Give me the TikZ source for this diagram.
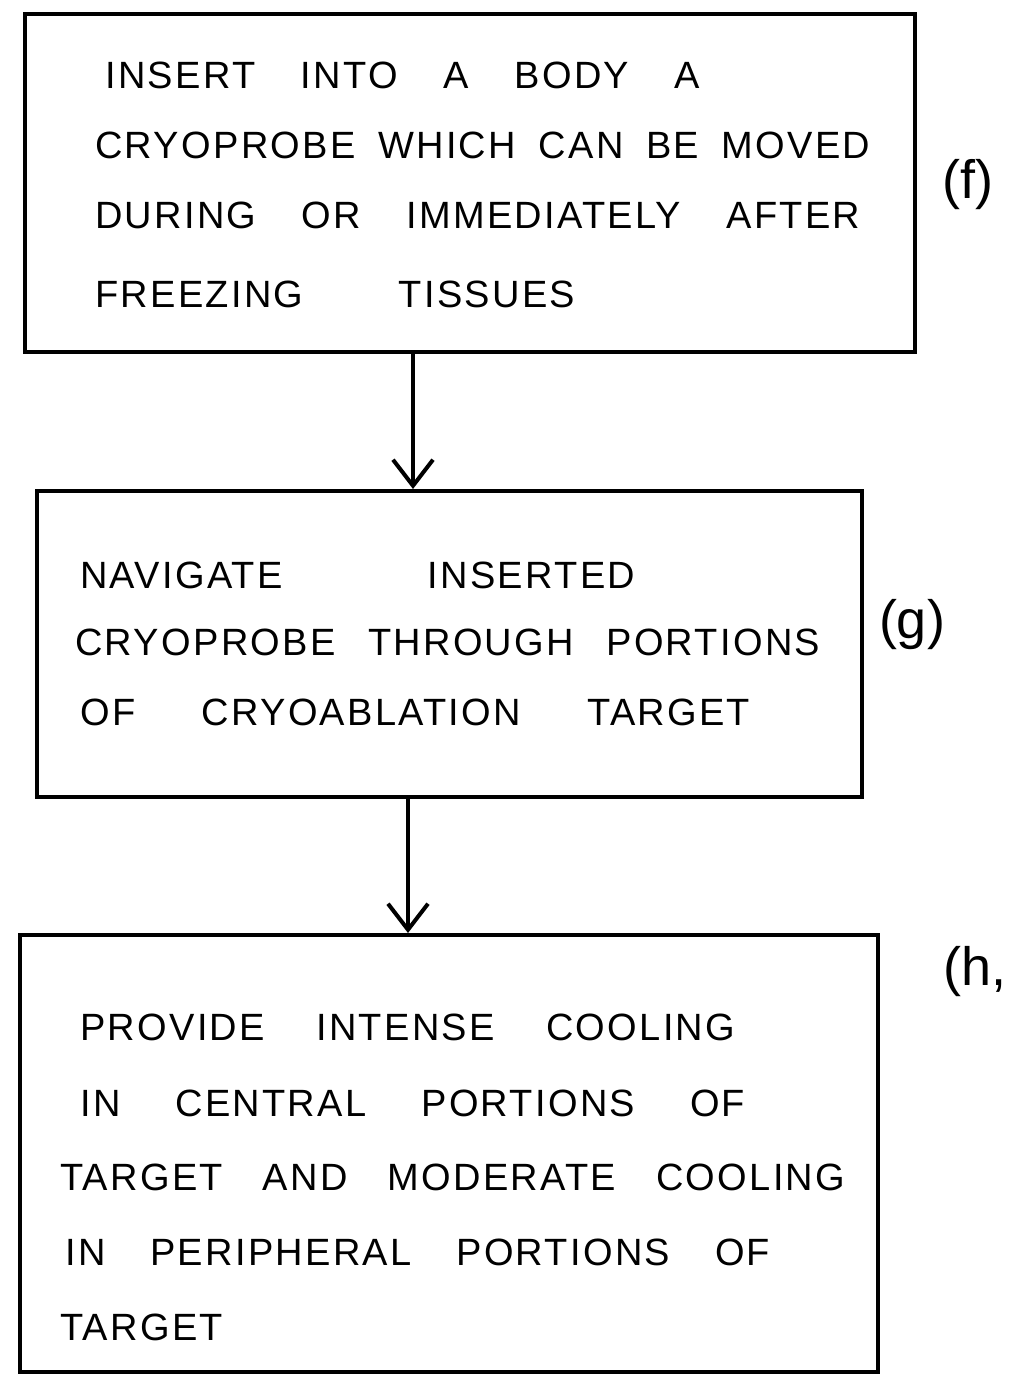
\documentclass[tikz,border=0pt]{standalone}
\usepackage{fontspec}
\setmainfont{Liberation Sans}
\usetikzlibrary{arrows.meta}
\newfontfamily\handfont[LetterSpace=6]{Liberation Sans}
\newcommand{\spreadline}[2]{\makebox[#1][s]{#2}}
\begin{document}
\begin{tikzpicture}[x=1pt,y=-1pt,
  stepbox/.style={draw=black,line width=4pt,rectangle,inner sep=0pt},
  txt/.style={anchor=base west,inner sep=0pt,font=\handfont\fontsize{38}{44}\selectfont},
  lbl/.style={inner sep=0pt,font=\fontsize{54}{60}\selectfont},
  flow/.style={line width=4pt,-{Straight Barb[length=26pt,width=40pt,line width=4pt]}}]
\useasboundingbox[fill=white] (0,0) rectangle (1033,1387);
% boxes
\node[stepbox,minimum width=890pt,minimum height=338pt] (b1) at (470,183) {};
\node[stepbox,minimum width=825pt,minimum height=306pt] (b2) at (449.5,644) {};
\node[stepbox,minimum width=858pt,minimum height=437pt] (b3) at (449,1153.5) {};
% box 1 text
\node[txt] (t11) at (105,88) {\spreadline{595pt}{INSERT INTO A BODY A}};
\node[txt] (t12) at (95,158) {\spreadline{775pt}{CRYOPROBE WHICH CAN BE MOVED}};
\node[txt] (t13) at (95,228) {\spreadline{765pt}{DURING OR IMMEDIATELY AFTER}};
\node[txt] (t14) at (95,307) {\spreadline{480pt}{FREEZING TISSUES}};
% box 2 text
\node[txt] (t21) at (80,588) {\spreadline{555pt}{NAVIGATE INSERTED}};
\node[txt] (t22) at (75,655) {\spreadline{745pt}{CRYOPROBE THROUGH PORTIONS}};
\node[txt] (t23) at (80,725) {\spreadline{670pt}{OF CRYOABLATION TARGET}};
% box 3 text
\node[txt] (t31) at (80,1040) {\spreadline{655pt}{PROVIDE INTENSE COOLING}};
\node[txt] (t32) at (80,1116) {\spreadline{665pt}{IN CENTRAL PORTIONS OF}};
\node[txt] (t33) at (60,1190) {\spreadline{785pt}{TARGET AND MODERATE COOLING}};
\node[txt] (t34) at (65,1265) {\spreadline{705pt}{IN PERIPHERAL PORTIONS OF}};
\node[txt] (t35) at (60,1340) {\spreadline{195pt}{TARGET}};
% side labels
\node[lbl] (lf) at (968,185) {(f)};
\node[lbl] (lg) at (912,625) {(g)};
\node[lbl] (lh) at (975,972) {(h,};
% arrows
\coordinate (ax1) at (413,0);
\coordinate (ax2) at (408,0);
\draw[flow] (b1.south -| ax1) -- (b2.north -| ax1);
\draw[flow] (b2.south -| ax2) -- (b3.north -| ax2);
\end{tikzpicture}
\end{document}
